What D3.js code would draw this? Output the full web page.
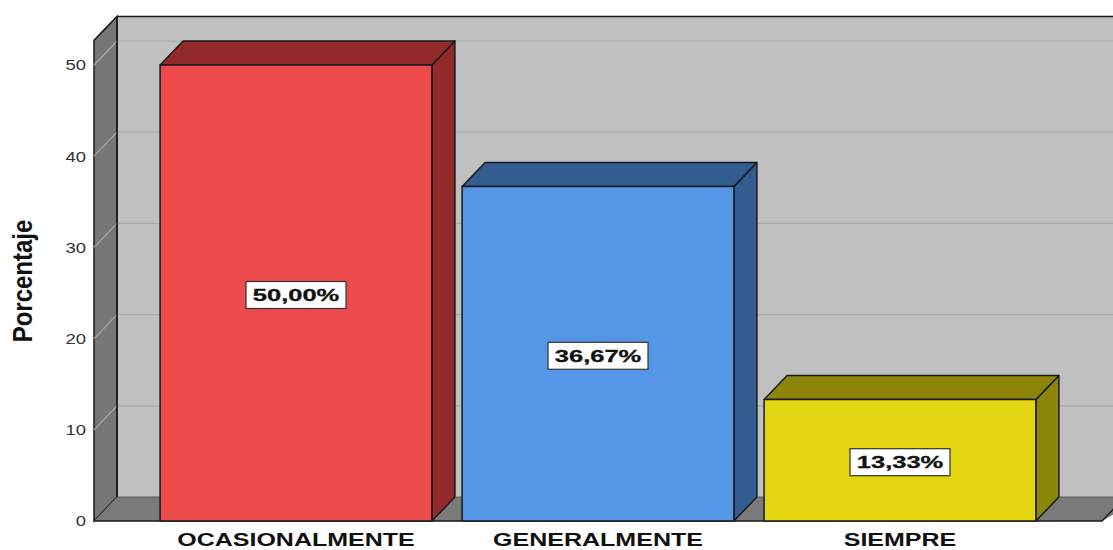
<!DOCTYPE html>
<html><head><meta charset="utf-8">
<script src="https://cdn.jsdelivr.net/npm/d3@7"></script>
<style>body{margin:0;background:#fff}svg{display:block}</style>
</head><body>
<svg id="c" width="1113" height="550"></svg>
<script>
const categories = ["OCASIONALMENTE", "GENERALMENTE", "SIEMPRE"];
const values = [50.00, 36.67, 13.33];
const valueLabels = ["50,00%", "36,67%", "13,33%"];
const tickValues = [0, 10, 20, 30, 40, 50];
const axisMax = 52.7;
const frontColors = ["#ec4a4b", "#5596e6", "#e2d610"];
const darkColors = ["#922a2c", "#335c91", "#8c850a"];

const svg = d3.select("#c");
const dx = 23, dy = 24;
const x0 = 94, x1 = 1102;
const y = d3.scaleLinear().domain([0, 50]).range([521, 65]);
const x = d3.scaleBand().domain(categories).range([145, 1051]).paddingInner(0.1).paddingOuter(0.05);
const line = d3.line();
const yTop = y(axisMax), yBot = y(0);

// back wall
svg.append("rect").attr("x", x0 + dx).attr("y", yTop - dy).attr("width", 1200).attr("height", yBot - yTop)
  .attr("fill", "#c0c0c0");
// left wall
svg.append("path").attr("d", line([[x0, yTop], [x0 + dx, yTop - dy], [x0 + dx, yBot - dy], [x0, yBot]]) + "Z")
  .attr("fill", "#777777").attr("stroke", "#1a1a1a").attr("stroke-width", 1.5);
// floor
svg.append("path").attr("d", line([[x0, yBot], [x0 + dx, yBot - dy], [x1 + dx + 20, yBot - dy], [x1, yBot]]) + "Z")
  .attr("fill", "#7a7a7a");
svg.append("path").attr("d", line([[x0, yBot], [x1, yBot], [x1 + dx, yBot - dy]]))
  .attr("fill", "none").attr("stroke", "#1a1a1a").attr("stroke-width", 1.5);
svg.append("line").attr("x1", x0 + dx).attr("x2", 1113).attr("y1", yBot - dy).attr("y2", yBot - dy)
  .attr("stroke", "#5a5a5a").attr("stroke-width", 1);
// gridlines
tickValues.filter(t => t > 0).forEach(t => {
  svg.append("line").attr("x1", x0 + dx).attr("x2", 1113).attr("y1", y(t) - dy).attr("y2", y(t) - dy)
    .attr("stroke", "#aaaaaa").attr("stroke-width", 1.2);
  svg.append("line").attr("x1", x0).attr("x2", x0 + dx).attr("y1", y(t)).attr("y2", y(t) - dy)
    .attr("stroke", "#a8a8a8").attr("stroke-width", 1.2);
});
// frame lines
svg.append("line").attr("x1", x0 + dx).attr("x2", 1113).attr("y1", yTop - dy).attr("y2", yTop - dy)
  .attr("stroke", "#1a1a1a").attr("stroke-width", 1.5);
svg.append("line").attr("x1", x0 + dx).attr("x2", x0 + dx).attr("y1", yTop - dy).attr("y2", yBot - dy)
  .attr("stroke", "#1a1a1a").attr("stroke-width", 1.5);

// tick labels
const axisG = svg.append("g");
tickValues.forEach(t => {
  axisG.append("text").attr("transform", `translate(86,${y(t)}) scale(1.23,1)`)
    .attr("text-anchor", "end").attr("dy", "0.36em")
    .attr("font-family", "Liberation Sans, Arial, sans-serif").attr("font-size", 15)
    .attr("fill", "#333").text(t);
});
svg.append("text").attr("transform", "translate(32,281) scale(1.15,1) rotate(-90)")
  .attr("text-anchor", "middle")
  .attr("font-family", "Liberation Sans, Arial, sans-serif").attr("font-size", 24).attr("font-weight", "bold")
  .attr("fill", "#111").text("Porcentaje");

// bars
const bars = svg.append("g");
categories.forEach((c, i) => {
  const bx0 = x(c), bx1 = x(c) + x.bandwidth(), yv = y(values[i]);
  const g = bars.append("g").attr("stroke", "#1a1a1a").attr("stroke-width", 1.5).attr("stroke-linejoin", "round");
  g.append("path").attr("d", line([[bx1, yv], [bx1 + dx, yv - dy], [bx1 + dx, yBot - dy], [bx1, yBot]]) + "Z")
    .attr("fill", darkColors[i]);
  g.append("path").attr("d", line([[bx0, yv], [bx0 + dx, yv - dy], [bx1 + dx, yv - dy], [bx1, yv]]) + "Z")
    .attr("fill", darkColors[i]);
  g.append("rect").attr("x", bx0).attr("y", yv).attr("width", bx1 - bx0).attr("height", yBot - yv)
    .attr("fill", frontColors[i]);

  // value label
  const cx = bx0 + x.bandwidth() / 2, cy = y(values[i] / 2) + 2;
  const lg = svg.append("g").attr("transform", `translate(${cx},${cy})`);
  lg.append("rect").attr("x", -50).attr("y", -13.5).attr("width", 100).attr("height", 27)
    .attr("fill", "#fff").attr("stroke", "#333").attr("stroke-width", 1.2);
  lg.append("text").attr("transform", "scale(1.5,1)").attr("text-anchor", "middle").attr("dy", "0.36em")
    .attr("font-family", "Liberation Sans, Arial, sans-serif").attr("font-size", 17).attr("font-weight", "bold")
    .attr("fill", "#111").attr("stroke", "#111").attr("stroke-width", 0.3).text(valueLabels[i]);

  // category label
  svg.append("text").attr("transform", `translate(${cx},546) scale(1.43,1)`)
    .attr("text-anchor", "middle")
    .attr("font-family", "Liberation Sans, Arial, sans-serif").attr("font-size", 17.5).attr("font-weight", "bold")
    .attr("fill", "#111").text(c);
});
</script>
</body></html>
